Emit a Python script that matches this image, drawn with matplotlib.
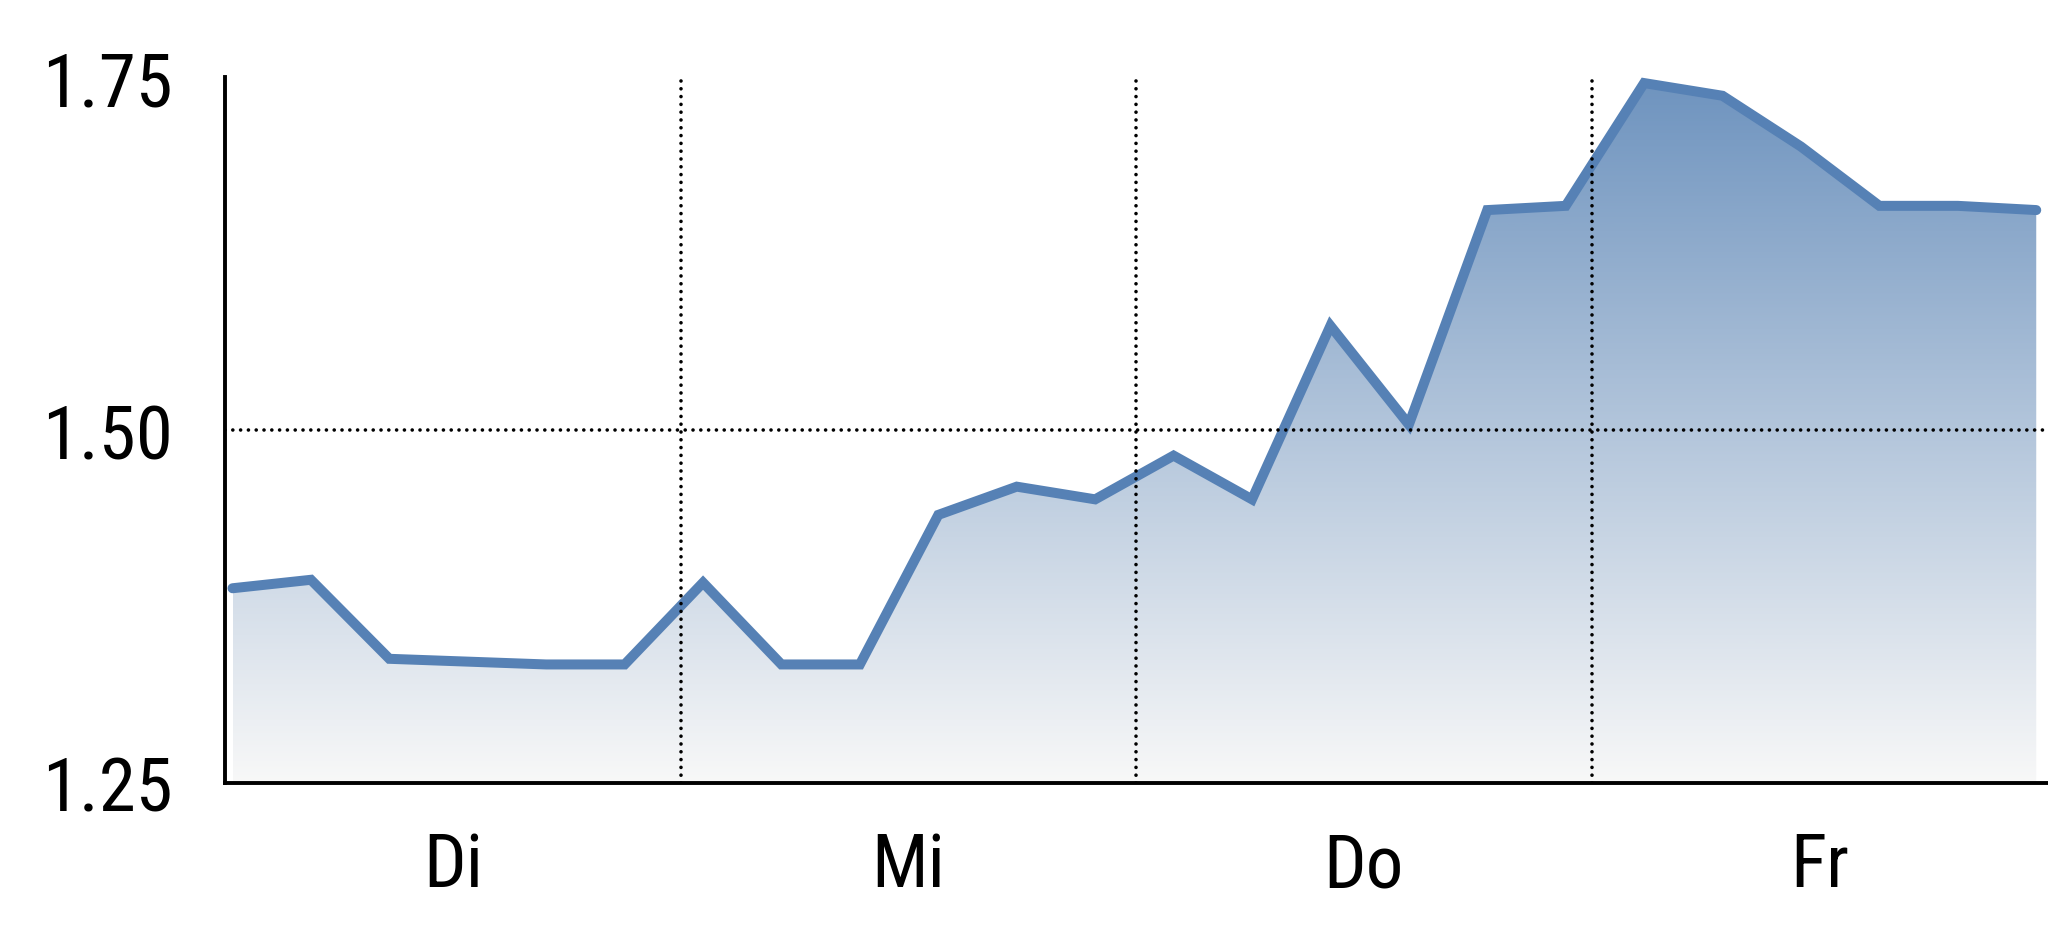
import numpy as np
import matplotlib
matplotlib.use("Agg")
import matplotlib.pyplot as plt
from matplotlib.colors import LinearSegmentedColormap
from matplotlib.patches import Polygon
from matplotlib import font_manager

# ---- data ----
point_index = [0, 1, 2, 3, 4, 5, 6, 7, 8, 9, 10, 11,
               12, 13, 14, 15, 16, 17, 18, 19, 20, 21, 22, 23]
values = [1.388, 1.394, 1.338, 1.336, 1.334, 1.334, 1.392, 1.334, 1.334,
          1.440, 1.460, 1.451, 1.482, 1.451, 1.574, 1.504, 1.656, 1.659,
          1.746, 1.737, 1.701, 1.659, 1.659, 1.656]
day_labels = ["Di", "Mi", "Do", "Fr"]
day_bounds = [-0.1, 5.72, 11.52, 17.33, 23.15]
y_ticks = [1.25, 1.50, 1.75]
y_tick_labels = ["1.25", "1.50", "1.75"]

# ---- font ----
names = {f.name for f in font_manager.fontManager.ttflist}
family = ["Roboto Condensed", "Archivo Narrow", "Liberation Sans", "DejaVu Sans"]
family = [f for f in family if f in names] or ["DejaVu Sans"]
plt.rcParams["font.family"] = family

line_color = "#5681b5"
top_color = "#6f94bf"
bottom_color = "#f8f8f8"

fig = plt.figure(figsize=(20.48, 9.37), dpi=100)
ax = fig.add_axes([0.1097, 0.1633, 0.8903, 0.753])

x = np.array(point_index, dtype=float)
y = np.array(values)
ymin, ymax = 1.25, 1.75

# gradient fill
cmap = LinearSegmentedColormap.from_list("g", [bottom_color, top_color])
grad = np.linspace(0, 1, 512).reshape(-1, 1)
im = ax.imshow(grad, extent=[x[0], x[-1], ymin, y.max()], origin="lower",
               aspect="auto", cmap=cmap, zorder=1, interpolation="bilinear")
verts = [(x[0], ymin)] + list(zip(x, y)) + [(x[-1], ymin)]
poly = Polygon(verts, closed=True, facecolor="none", edgecolor="none")
ax.add_patch(poly)
im.set_clip_path(poly)

ax.plot(x, y, color=line_color, lw=7.2, solid_capstyle="round",
        solid_joinstyle="miter", zorder=2)

# grid lines
dot = (0, (0.01, 2.15))
kw = dict(color="black", lw=2.6, linestyle=dot, dash_capstyle="round", zorder=3)
ax.axhline(1.50, **kw)
for b in day_bounds[1:-1]:
    ax.axvline(b, **kw)

ax.set_xlim(day_bounds[0], day_bounds[-1])
ax.set_ylim(ymin, ymax)

centers = [(day_bounds[i] + day_bounds[i + 1]) / 2 for i in range(len(day_labels))]
ax.set_xticks(centers)
ax.set_xticklabels(day_labels)
ax.set_yticks(y_ticks)
ax.set_yticklabels(y_tick_labels)
ax.tick_params(axis="both", length=0, labelsize=54, colors="black")
ax.tick_params(axis="y", pad=37)
ax.tick_params(axis="x", pad=34)

for s in ["top", "right"]:
    ax.spines[s].set_visible(False)
for s in ["left", "bottom"]:
    ax.spines[s].set_linewidth(2.8)
    ax.spines[s].set_color("black")
    ax.spines[s].set_zorder(4)

fig.savefig("out.png", dpi=100, facecolor="white")
